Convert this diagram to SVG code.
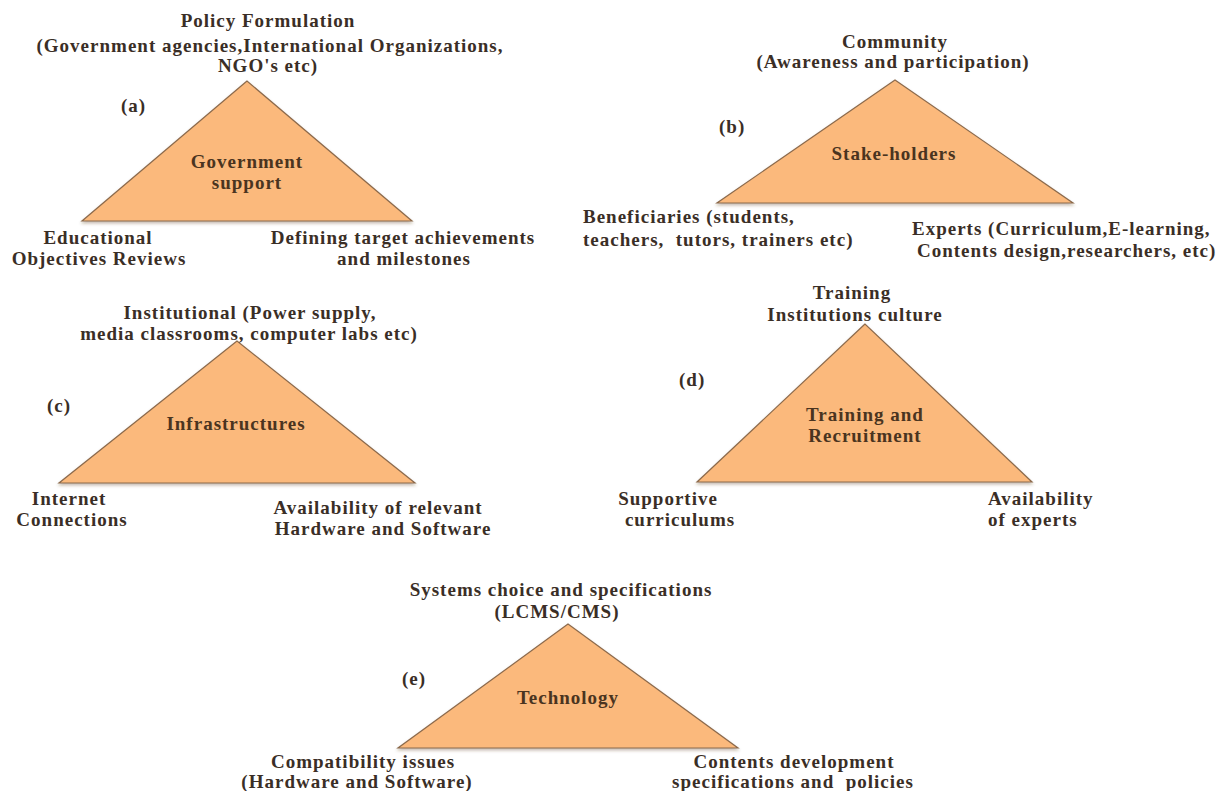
<svg xmlns="http://www.w3.org/2000/svg" width="1217" height="791" viewBox="0 0 1217 791">
  <defs>
    <filter id="soft" x="-10%" y="-10%" width="120%" height="130%">
      <feDropShadow dx="0" dy="2" stdDeviation="1.5" flood-color="#5a3a1a" flood-opacity="0.35"/>
    </filter>
  </defs>
  <style>
    text { font-family: "Liberation Serif", "Times New Roman", serif; font-weight: bold; font-size: 19px; letter-spacing: 1px; fill: #3a2e26; }
    .c { text-anchor: middle; }
    .s { text-anchor: start; }
    .inner { fill: #4a3420; }
    .tri { fill: #fbb97b; stroke: #8c6a4c; stroke-width: 1.2; stroke-linejoin: miter; filter: url(#soft); }
  </style>
  <rect width="1217" height="791" fill="#ffffff"/>

  <!-- (a) Government support -->
  <g id="government-support">
    <polygon class="tri" points="247,81 82,221 412,221"/>
    <text class="c" x="268" y="27">Policy Formulation</text>
    <text class="c" x="270" y="52">(Government agencies,International Organizations,</text>
    <text class="c" x="268" y="72">NGO's etc)</text>
    <text class="s" x="121" y="112">(a)</text>
    <text class="c inner" x="247" y="168">Government</text>
    <text class="c inner" x="247" y="189">support</text>
    <text class="c" x="98" y="244">Educational</text>
    <text class="c" x="99" y="265">Objectives Reviews</text>
    <text class="c" x="403" y="244">Defining target achievements</text>
    <text class="c" x="404" y="265">and milestones</text>
  </g>

  <!-- (b) Stake-holders -->
  <g id="stake-holders">
    <polygon class="tri" points="895,80 717,203 1073,203"/>
    <text class="c" x="895" y="48">Community</text>
    <text class="c" x="893" y="68">(Awareness and participation)</text>
    <text class="s" x="719" y="133">(b)</text>
    <text class="c inner" x="894" y="160">Stake-holders</text>
    <text class="s" x="583" y="223">Beneficiaries (students,</text>
    <text class="s" x="583" y="246" xml:space="preserve">teachers,  tutors, trainers etc)</text>
    <text class="s" x="912" y="235">Experts (Curriculum,E-learning,</text>
    <text class="s" x="917" y="257">Contents design,researchers, etc)</text>
  </g>

  <!-- (c) Infrastructures -->
  <g id="infrastructures">
    <polygon class="tri" points="237,341 59,483 415,483"/>
    <text class="c" x="250" y="319">Institutional (Power supply,</text>
    <text class="c" x="249" y="340">media classrooms, computer labs etc)</text>
    <text class="s" x="47" y="412">(c)</text>
    <text class="c inner" x="236" y="430">Infrastructures</text>
    <text class="c" x="69" y="505">Internet</text>
    <text class="c" x="72" y="526">Connections</text>
    <text class="c" x="378" y="514">Availability of relevant</text>
    <text class="c" x="383" y="535">Hardware and Software</text>
  </g>

  <!-- (d) Training and Recruitment -->
  <g id="training-recruitment">
    <polygon class="tri" points="865,324 697,482 1032,482"/>
    <text class="c" x="852" y="299">Training</text>
    <text class="c" x="855" y="321">Institutions culture</text>
    <text class="s" x="679" y="386">(d)</text>
    <text class="c inner" x="865" y="421">Training and</text>
    <text class="c inner" x="865" y="442">Recruitment</text>
    <text class="c" x="668" y="505">Supportive</text>
    <text class="c" x="680" y="526">curriculums</text>
    <text class="s" x="988" y="505">Availability</text>
    <text class="s" x="988" y="526">of experts</text>
  </g>

  <!-- (e) Technology -->
  <g id="technology">
    <polygon class="tri" points="568,624 398,748 738,748"/>
    <text class="c" x="561" y="596">Systems choice and specifications</text>
    <text class="c" x="557" y="618">(LCMS/CMS)</text>
    <text class="s" x="402" y="685">(e)</text>
    <text class="c inner" x="568" y="704">Technology</text>
    <text class="c" x="363" y="768">Compatibility issues</text>
    <text class="c" x="357" y="788">(Hardware and Software)</text>
    <text class="c" x="794" y="768">Contents development</text>
    <text class="c" x="793" y="788" xml:space="preserve">specifications and  policies</text>
  </g>

  <g id="connectors"></g>
</svg>
